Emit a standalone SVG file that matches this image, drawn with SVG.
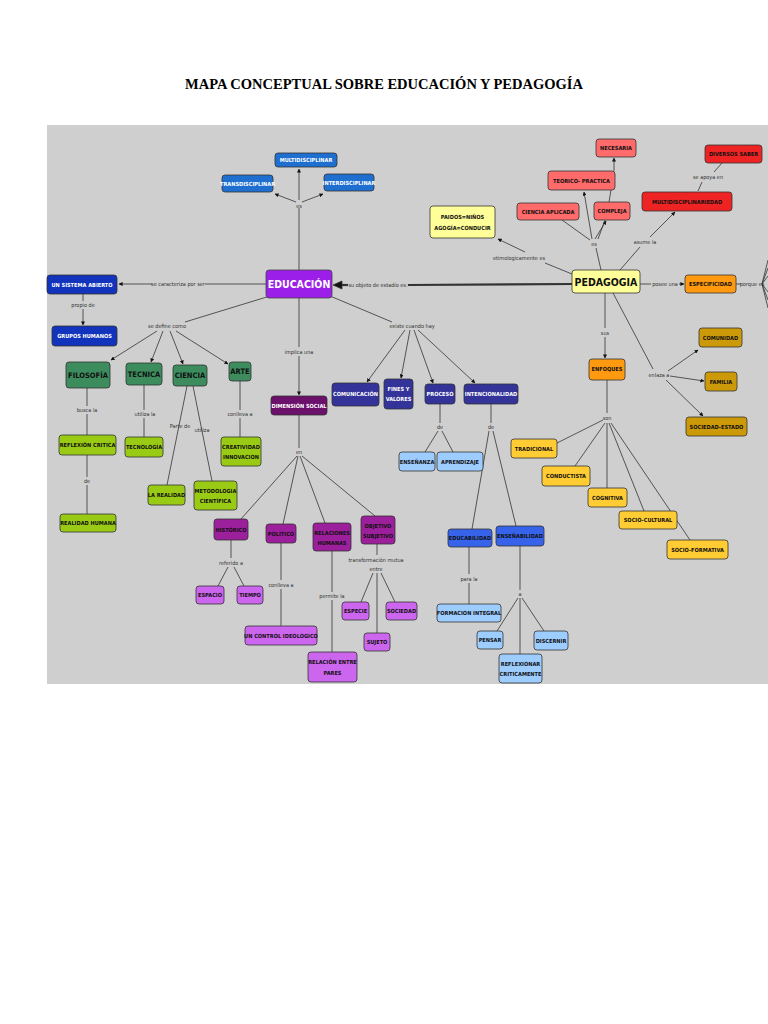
<svg xmlns="http://www.w3.org/2000/svg" width="768" height="1024" viewBox="0 0 768 1024">
<defs>
<marker id="ar" viewBox="0 0 10 10" refX="9" refY="5" markerWidth="5" markerHeight="5" orient="auto"><path d="M0,0L10,5L0,10z" fill="#111"/></marker>
<style>
.n rect{stroke:#333;stroke-width:0.8;rx:3}
.n text{font-family:"DejaVu Sans Condensed","DejaVu Sans",sans-serif;font-weight:bold;font-size:5.6px;text-anchor:middle;fill:#111}
.w text{fill:#fff}
.l{font-family:"DejaVu Sans Condensed","DejaVu Sans",sans-serif;font-size:5.5px;fill:#333;text-anchor:middle}
#c line,#c path{stroke:#333;stroke-width:0.8;fill:none}
.a{marker-end:url(#ar)}
.bl rect{fill:#1f6fd1}.db rect{fill:#1233bb}.g rect{fill:#3c8c5e}.lm rect{fill:#9acb14}.dp rect{fill:#6b106b}.p rect{fill:#9c1f9c}.lp rect{fill:#cc66ee}
.in rect{fill:#343399}.lb rect{fill:#9dccff}.mb rect{fill:#3763ea}.ly rect{fill:#ffff99}.sa rect{fill:#ff6a6a}.rd rect{fill:#ee2424}.or rect{fill:#ff9a10}.gd rect{fill:#cc9a08}.yl rect{fill:#ffcc33}
</style>
</defs>
<rect width="768" height="1024" fill="#fff"/>
<text x="384" y="89" font-family="Liberation Serif,serif" font-weight="bold" font-size="14.5" text-anchor="middle">MAPA CONCEPTUAL SOBRE EDUCACIÓN Y PEDAGOGÍA</text>
<rect x="47" y="125" width="721" height="559" fill="#cfcfcf"/>
<g id="c">
<line x1="299" y1="270" x2="299" y2="208"/><line class="a" x1="299" y1="200" x2="299" y2="169"/><line class="a" x1="296" y1="202" x2="275" y2="194"/><line class="a" x1="302" y1="202" x2="323" y2="194"/>
<line x1="266" y1="284" x2="205" y2="284"/><line class="a" x1="152" y1="284" x2="119" y2="284"/>
<line x1="83" y1="294" x2="83" y2="301"/><line class="a" x1="83" y1="309" x2="83" y2="325"/>
<line x1="270" y1="296" x2="185" y2="322"/><line class="a" x1="157" y1="331" x2="111" y2="360"/><line class="a" x1="163" y1="331" x2="151" y2="362"/><line class="a" x1="170" y1="331" x2="183" y2="364"/><line class="a" x1="176" y1="331" x2="228" y2="364"/>
<line x1="87" y1="388" x2="87" y2="406"/><line x1="87" y1="414" x2="87" y2="435"/><line x1="87" y1="455" x2="87" y2="477"/><line x1="87" y1="485" x2="87" y2="514"/>
<line x1="144" y1="385" x2="144" y2="410"/><line x1="144" y1="418" x2="144" y2="437"/>
<line x1="187" y1="386" x2="167" y2="485"/><line x1="193" y1="386" x2="212" y2="481"/>
<line x1="240" y1="381" x2="240" y2="410"/><line x1="240" y1="418" x2="240" y2="437"/>
<line x1="299" y1="298" x2="299" y2="347"/><line class="a" x1="299" y1="356" x2="299" y2="395"/>
<line x1="299" y1="415" x2="299" y2="448"/><line x1="297" y1="456" x2="241" y2="519"/><line x1="298" y1="456" x2="283" y2="524"/><line x1="300" y1="456" x2="325" y2="523"/><line x1="302" y1="456" x2="375" y2="516"/>
<line x1="231" y1="540" x2="231" y2="558"/><line x1="228" y1="567" x2="218" y2="586"/><line x1="234" y1="567" x2="244" y2="586"/>
<line x1="281" y1="543" x2="281" y2="580"/><line x1="281" y1="589" x2="281" y2="626"/>
<line x1="332" y1="551" x2="332" y2="592"/><line x1="332" y1="600" x2="332" y2="652"/>
<line x1="377" y1="544" x2="377" y2="555"/><line x1="373" y1="573" x2="361" y2="602"/><line x1="377" y1="573" x2="377" y2="633"/><line x1="381" y1="573" x2="395" y2="602"/>
<line x1="572" y1="284" x2="408" y2="285" style="stroke-width:2.2"/><path d="M348,285L341,285" style="stroke-width:2.2"/><path d="M333,285l9,-4v8z" style="fill:#111"/>
<line x1="330" y1="296" x2="392" y2="322"/><line class="a" x1="405" y1="330" x2="367" y2="382"/><line class="a" x1="410" y1="330" x2="401" y2="378"/><line class="a" x1="414" y1="330" x2="433" y2="383"/><line class="a" x1="418" y1="330" x2="475" y2="383"/>
<line x1="440" y1="404" x2="440" y2="423"/><line x1="438" y1="431" x2="425" y2="452"/><line x1="442" y1="431" x2="453" y2="452"/>
<line x1="491" y1="404" x2="491" y2="423"/><line x1="489" y1="431" x2="472" y2="529"/><line x1="493" y1="431" x2="516" y2="526"/>
<line x1="469" y1="547" x2="469" y2="574"/><line x1="469" y1="583" x2="469" y2="604"/>
<line x1="520" y1="546" x2="520" y2="590"/><line x1="518" y1="598" x2="497" y2="631"/><line x1="520" y1="598" x2="520" y2="654"/><line x1="522" y1="598" x2="544" y2="631"/>
<line x1="572" y1="274" x2="545" y2="263"/><line class="a" x1="525" y1="252" x2="498" y2="239"/>
<line x1="601" y1="270" x2="596" y2="248"/><line x1="590" y1="240" x2="562" y2="220"/><line class="a" x1="592" y1="239" x2="584" y2="192"/><line class="a" x1="595" y1="239" x2="606" y2="221"/><line x1="598" y1="239" x2="605" y2="220"/><line x1="609" y1="202" x2="611" y2="190"/><line class="a" x1="614" y1="171" x2="614" y2="158"/>
<line x1="620" y1="270" x2="640" y2="247"/><line class="a" x1="650" y1="237" x2="675" y2="212"/>
<line x1="698" y1="191" x2="702" y2="182"/><line x1="714" y1="172" x2="722" y2="163"/>
<line x1="640" y1="284" x2="651" y2="284"/><line class="a" x1="679" y1="284" x2="684" y2="284"/><line x1="736" y1="284" x2="741" y2="284"/>
<path d="M762,284L768,260M762,284L768,268M762,284L768,276M762,284L768,292M762,284L768,300M762,284L768,308"/>
<line x1="605" y1="293" x2="605" y2="328"/><line class="a" x1="605" y1="337" x2="605" y2="358"/>
<line x1="613" y1="293" x2="653" y2="369"/><line class="a" x1="668" y1="371" x2="698" y2="350"/><line class="a" x1="670" y1="376" x2="704" y2="381"/><line class="a" x1="666" y1="380" x2="703" y2="416"/>
<line x1="607" y1="380" x2="607" y2="413"/><line x1="603" y1="420" x2="557" y2="443"/><line x1="605" y1="423" x2="575" y2="466"/><line x1="607" y1="423" x2="607" y2="488"/><line x1="609" y1="423" x2="644" y2="511"/><line x1="611" y1="423" x2="690" y2="540"/>
</g>
<g class="l">
<text x="299" y="208">es</text><text x="178" y="286">se caracteriza por ser</text><text x="83" y="307">propio de</text><text x="167" y="328">se define como</text>
<text x="87" y="412">busca la</text><text x="87" y="483">de</text><text x="145" y="416">utiliza la</text><text x="180" y="428">Parte de</text><text x="202" y="432">utiliza</text><text x="240" y="416">conlleva a</text>
<text x="299" y="354">implica una</text><text x="299" y="454">en</text><text x="231" y="565">referido a</text><text x="281" y="587">conlleva a</text><text x="332" y="598">permite la</text>
<text x="376" y="562">transformación mutua</text><text x="376" y="571">entre</text>
<text x="378" y="287">su objeto de estadío es:</text><text x="412" y="328">existe cuando hay</text><text x="440" y="429">de</text><text x="491" y="429">de</text><text x="469" y="581">para la</text><text x="520" y="596">a</text>
<text x="519" y="260">etimologicamente es</text><text x="594" y="246">es</text><text x="645" y="244">asume la</text><text x="708" y="179">se apoya en</text><text x="665" y="286">posee una</text><text x="752" y="286">porque es</text>
<text x="605" y="335">sus</text><text x="659" y="377">enlaza a</text><text x="607" y="420">son</text>
</g>
<g id="n_multi" class="n bl w"><rect x="275" y="153" width="62" height="14"/><text x="306" y="162">MULTIDISCIPLINAR</text></g>
<g id="n_trans" class="n bl w"><rect x="222" y="175" width="51" height="17"/><text x="247.5" y="186">TRANSDISCIPLINAR</text></g>
<g id="n_inter" class="n bl w"><rect x="324" y="174" width="50" height="17"/><text x="349" y="185">INTERDISCIPLINAR</text></g>
<g id="n_edu"><rect x="266" y="270" width="66" height="28" rx="3" fill="#9b1fe8" stroke="#444" stroke-width="0.8"/><text x="299" y="288" font-family="DejaVu Sans Condensed,DejaVu Sans,sans-serif" font-weight="bold" font-size="10.5" fill="#fff" text-anchor="middle">EDUCACIÓN</text></g>
<g id="n_sist" class="n db w"><rect x="47" y="275" width="70" height="19"/><text x="82" y="287">UN SISTEMA ABIERTO</text></g>
<g id="n_grup" class="n db w"><rect x="52" y="326" width="65" height="20"/><text x="84.5" y="338">GRUPOS HUMANOS</text></g>
<g id="n_filo" class="n g"><rect x="66" y="362" width="44" height="26"/><text x="88" y="378" style="font-size:7.5px">FILOSOFÍA</text></g>
<g id="n_tec" class="n g"><rect x="126" y="363" width="36" height="22"/><text x="144" y="377" style="font-size:7.5px">TECNICA</text></g>
<g id="n_cien" class="n g"><rect x="173" y="365" width="34" height="21"/><text x="190" y="378" style="font-size:7.5px">CIENCIA</text></g>
<g id="n_arte" class="n g"><rect x="229" y="362" width="22" height="19"/><text x="240" y="374" style="font-size:7.5px">ARTE</text></g>
<g id="n_refl" class="n lm"><rect x="59" y="435" width="57" height="20"/><text x="87.5" y="447">REFLEXIÓN CRITICA</text></g>
<g id="n_realh" class="n lm"><rect x="60" y="514" width="56" height="18"/><text x="88" y="525">REALIDAD HUMANA</text></g>
<g id="n_tecno" class="n lm"><rect x="125" y="437" width="38" height="20"/><text x="144" y="449">TECNOLOGÍA</text></g>
<g id="n_lreal" class="n lm"><rect x="148" y="485" width="37" height="20"/><text x="166.5" y="497">LA REALIDAD</text></g>
<g id="n_meto" class="n lm"><rect x="194" y="481" width="43" height="29"/><text x="215.5" y="493">METODOLOGIA</text><text x="215.5" y="503">CIENTÍFICA</text></g>
<g id="n_crea" class="n lm"><rect x="221" y="437" width="40" height="29"/><text x="241" y="449">CREATIVIDAD</text><text x="241" y="459">INNOVACION</text></g>
<g id="n_dim" class="n dp w"><rect x="271" y="396" width="56" height="19"/><text x="299" y="408">DIMENSIÓN SOCIAL</text></g>
<g id="n_hist" class="n p"><rect x="214" y="519" width="34" height="21"/><text x="231" y="532">HISTÓRICO</text></g>
<g id="n_poli" class="n p"><rect x="266" y="524" width="30" height="19"/><text x="281" y="536">POLITICO</text></g>
<g id="n_relh" class="n p"><rect x="313" y="523" width="38" height="28"/><text x="332" y="535">RELACIONES</text><text x="332" y="545">HUMANAS</text></g>
<g id="n_obj" class="n p"><rect x="361" y="516" width="34" height="28"/><text x="378" y="528">OBJETIVO</text><text x="378" y="538">SUBJETIVO</text></g>
<g id="n_esp" class="n lp"><rect x="196" y="586" width="28" height="18"/><text x="210" y="597">ESPACIO</text></g>
<g id="n_tiem" class="n lp"><rect x="237" y="586" width="26" height="18"/><text x="250" y="597">TIEMPO</text></g>
<g id="n_ctrl" class="n lp"><rect x="245" y="626" width="72" height="19"/><text x="281" y="638">UN CONTROL IDEOLOGICO</text></g>
<g id="n_rel" class="n lp"><rect x="308" y="652" width="49" height="30"/><text x="332.5" y="664">RELACIÓN ENTRE</text><text x="332.5" y="675">PARES</text></g>
<g id="n_espe" class="n lp"><rect x="342" y="602" width="27" height="18"/><text x="355.5" y="613">ESPECIE</text></g>
<g id="n_soc" class="n lp"><rect x="386" y="602" width="31" height="18"/><text x="401.5" y="613">SOCIEDAD</text></g>
<g id="n_suj" class="n lp"><rect x="364" y="633" width="26" height="18"/><text x="377" y="644">SUJETO</text></g>
<g id="n_com" class="n in w"><rect x="332" y="383" width="47" height="23"/><text x="355.5" y="396">COMUNICACIÓN</text></g>
<g id="n_fin" class="n in w"><rect x="384" y="379" width="29" height="30"/><text x="398.5" y="391">FINES Y</text><text x="398.5" y="401">VALORES</text></g>
<g id="n_proc" class="n in w"><rect x="425" y="384" width="30" height="20"/><text x="440" y="396">PROCESO</text></g>
<g id="n_int" class="n in w"><rect x="464" y="384" width="54" height="20"/><text x="491" y="396">INTENCIONALIDAD</text></g>
<g id="n_ense" class="n lb"><rect x="399" y="452" width="36" height="19"/><text x="417" y="464">ENSEÑANZA</text></g>
<g id="n_apre" class="n lb"><rect x="437" y="452" width="46" height="19"/><text x="460" y="464">APRENDIZAJE</text></g>
<g id="n_educ" class="n mb"><rect x="448" y="529" width="44" height="18"/><text x="470" y="540">EDUCABILIDAD</text></g>
<g id="n_ensb" class="n mb"><rect x="496" y="526" width="48" height="20"/><text x="520" y="538">ENSEÑABILIDAD</text></g>
<g id="n_form" class="n lb"><rect x="437" y="604" width="64" height="18"/><text x="469" y="615">FORMACION INTEGRAL</text></g>
<g id="n_pens" class="n lb"><rect x="477" y="631" width="26" height="18"/><text x="490" y="642">PENSAR</text></g>
<g id="n_disc" class="n lb"><rect x="534" y="631" width="34" height="19"/><text x="551" y="643">DISCERNIR</text></g>
<g id="n_refc" class="n lb"><rect x="499" y="654" width="43" height="29"/><text x="520.5" y="666">REFLEXIONAR</text><text x="520.5" y="676">CRITICAMENTE</text></g>
<g id="n_ped"><rect x="572" y="270" width="68" height="23" rx="3" fill="#ffff99" stroke="#333" stroke-width="0.8"/><text x="606" y="286" font-family="DejaVu Sans Condensed,DejaVu Sans,sans-serif" font-weight="bold" font-size="10.5" fill="#111" text-anchor="middle">PEDAGOGIA</text></g>
<g id="n_paid" class="n ly"><rect x="430" y="206" width="65" height="32"/><text x="462.5" y="219">PAIDOS=NIÑOS</text><text x="462.5" y="230">AGOGÍA=CONDUCIR</text></g>
<g id="n_capl" class="n sa"><rect x="517" y="203" width="62" height="17"/><text x="548" y="214">CIENCIA APLICADA</text></g>
<g id="n_teo" class="n sa"><rect x="548" y="171" width="67" height="19"/><text x="581.5" y="183">TEORICO- PRACTICA</text></g>
<g id="n_comp" class="n sa"><rect x="594" y="202" width="36" height="18"/><text x="612" y="213">COMPLEJA</text></g>
<g id="n_nec" class="n sa"><rect x="596" y="139" width="40" height="18"/><text x="616" y="150">NECESARIA</text></g>
<g id="n_mult" class="n rd"><rect x="642" y="192" width="90" height="19"/><text x="687" y="204">MULTIDISCIPLINARIEDAD</text></g>
<g id="n_div" class="n rd"><rect x="705" y="145" width="57" height="18"/><text x="733.5" y="156">DIVERSOS SABER</text></g>
<g id="n_espc" class="n or"><rect x="685" y="275" width="51" height="18"/><text x="710.5" y="286">ESPECIFICIDAD</text></g>
<g id="n_enf" class="n or"><rect x="589" y="359" width="36" height="21"/><text x="607" y="371">ENFOQUES</text></g>
<g id="n_comu" class="n gd"><rect x="699" y="328" width="43" height="19"/><text x="720.5" y="340">COMUNIDAD</text></g>
<g id="n_fam" class="n gd"><rect x="705" y="372" width="32" height="19"/><text x="721" y="384">FAMILIA</text></g>
<g id="n_socest" class="n gd"><rect x="686" y="417" width="61" height="19"/><text x="716.5" y="429">SOCIEDAD-ESTADO</text></g>
<g id="n_trad" class="n yl"><rect x="511" y="439" width="46" height="19"/><text x="534" y="451">TRADICIONAL</text></g>
<g id="n_cond" class="n yl"><rect x="542" y="466" width="48" height="20"/><text x="566" y="478">CONDUCTISTA</text></g>
<g id="n_cog" class="n yl"><rect x="588" y="488" width="39" height="19"/><text x="607.5" y="500">COGNITIVA</text></g>
<g id="n_socc" class="n yl"><rect x="619" y="511" width="58" height="18"/><text x="648" y="522">SOCIO-CULTURAL</text></g>
<g id="n_socf" class="n yl"><rect x="667" y="540" width="61" height="19"/><text x="697.5" y="552">SOCIO-FORMATIVA</text></g>
</svg>
